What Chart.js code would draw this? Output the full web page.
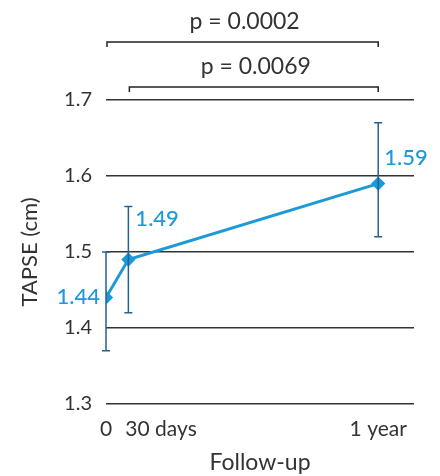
<!DOCTYPE html>
<html>
<head>
<meta charset="utf-8">
<script src="https://cdn.jsdelivr.net/npm/chart.js@4.4.0/dist/chart.umd.min.js"></script>
<style>
  html, body { margin: 0; padding: 0; background: #fff; }
  #wrap { width: 440px; height: 476px; }
</style>
</head>
<body>
<div id="wrap"><canvas id="myChart"></canvas></div>
<script>
// follow-up times in days
const xDays = [0, 30, 365];
const xLabels = ["0", "30 days", "1 year"];
const tapse = [1.44, 1.49, 1.59];
const errLow = [1.37, 1.42, 1.52];
const errHigh = [1.50, 1.56, 1.67];
const yTicks = [1.3, 1.4, 1.5, 1.6, 1.7];
const pLabels = ["p = 0.0002", "p = 0.0069"];
const pFrom = [0, 30];
const pTo = [365, 365];

const FONT = "Lato, 'Open Sans', sans-serif";
const blue = "#1b9ad7";
const errColor = "#24628f";

const extras = {
  id: "extras",
  afterDatasetsDraw(chart) {
    const c = chart.ctx, x = chart.scales.x, y = chart.scales.y;
    c.save();
    // error bars
    c.strokeStyle = errColor;
    c.lineWidth = 1.5;
    for (let i = 0; i < xDays.length; i++) {
      const px = x.getPixelForValue(xDays[i]);
      const top = y.getPixelForValue(errHigh[i]);
      const bot = y.getPixelForValue(errLow[i]);
      c.beginPath();
      c.moveTo(px, top); c.lineTo(px, bot);
      c.moveTo(px - 4, top); c.lineTo(px + 4, top);
      c.moveTo(px - 4, bot); c.lineTo(px + 4, bot);
      c.stroke();
    }
    // value labels
    c.fillStyle = blue;
    c.font = "500 22px " + FONT;
    c.textBaseline = "middle";
    const offs = [[-6, -1, "right"], [7, -41, "left"], [6, -26, "left"]];
    for (let i = 0; i < xDays.length; i++) {
      const px = x.getPixelForValue(xDays[i]);
      const py = y.getPixelForValue(tapse[i]);
      c.textAlign = offs[i][2];
      c.fillText(tapse[i].toFixed(2), px + offs[i][0], py + offs[i][1]);
    }
    // x tick labels
    c.fillStyle = "#333";
    c.font = "21px " + FONT;
    const al = [["center", 0], ["left", -3], ["center", 0]];
    for (let i = 0; i < xDays.length; i++) {
      c.textAlign = al[i][0];
      c.fillText(xLabels[i], x.getPixelForValue(xDays[i]) + al[i][1], y.bottom + 25);
    }
    // significance brackets
    const rows = [42, 87];
    c.strokeStyle = "#222";
    c.lineWidth = 1.5;
    c.font = "23px " + FONT;
    for (let i = 0; i < pLabels.length; i++) {
      const a = x.getPixelForValue(pFrom[i]) + 1, b = x.getPixelForValue(pTo[i]);
      const ry = rows[i];
      c.beginPath();
      c.moveTo(a, ry + 5); c.lineTo(a, ry); c.lineTo(b, ry); c.lineTo(b, ry + 5);
      c.stroke();
      c.textAlign = "center";
      c.fillText(pLabels[i], (a + b) / 2 + 2, ry - 20);
    }
    c.restore();
  }
};

const chart = new Chart(document.getElementById("myChart"), {
  type: "line",
  data: {
    datasets: [{
      data: xDays.map((d, i) => ({ x: d, y: tapse[i] })),
      borderColor: blue,
      backgroundColor: blue,
      borderWidth: 3,
      pointStyle: "rectRot",
      pointRadius: 5,
      pointHoverRadius: 5,
      fill: false,
      tension: 0
    }]
  },
  options: {
    responsive: true,
    maintainAspectRatio: false,
    animation: false,
    layout: { padding: { top: 100, right: 26, left: 0, bottom: 0 } },
    plugins: { legend: { display: false }, tooltip: { enabled: false } },
    scales: {
      x: {
        type: "linear",
        min: 0,
        max: 413,
        grid: { display: false },
        border: { display: false },
        ticks: { display: false },
        title: {
          display: true,
          text: "Follow-up",
          color: "#333",
          font: { family: FONT, size: 23 },
          padding: { top: 0, bottom: 0 }
        },
        afterFit(s) { s.height = 72; }
      },
      y: {
        min: 1.3,
        max: 1.7,
        afterBuildTicks(s) { s.ticks = yTicks.map(v => ({ value: v })); },
        ticks: {
          color: "#333",
          font: { family: FONT, size: 20 },
          padding: 14,
          callback: v => v.toFixed(1)
        },
        grid: { color: "#333", lineWidth: 1.5, drawTicks: false },
        border: { display: false },
        title: {
          display: true,
          text: "TAPSE (cm)",
          color: "#333",
          font: { family: FONT, size: 22 },
          padding: { top: 17, bottom: 0 }
        },
        afterFit(s) { s.width = 106; }
      }
    }
  },
  plugins: [extras]
});
</script>
</body>
</html>
